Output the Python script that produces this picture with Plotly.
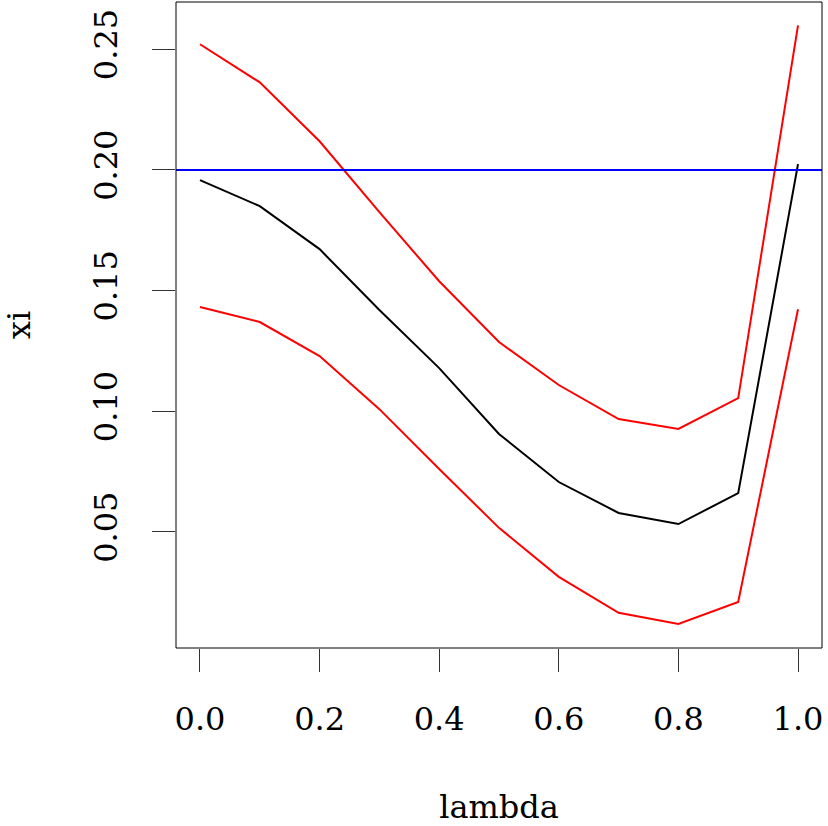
import plotly.graph_objects as go

lam = [0.0, 0.1, 0.2, 0.3, 0.4, 0.5, 0.6, 0.7, 0.8, 0.9, 1.0]
xi_mid = [0.1958, 0.1850, 0.1672, 0.1420, 0.1179, 0.0906, 0.0707, 0.0579, 0.0533, 0.0661, 0.2024]
xi_upper = [0.2521, 0.2363, 0.2119, 0.1825, 0.1539, 0.1287, 0.1109, 0.0968, 0.0927, 0.1055, 0.2599]
xi_lower = [0.1432, 0.1370, 0.1229, 0.1009, 0.0761, 0.0517, 0.0314, 0.0165, 0.0119, 0.0210, 0.1423]
true_xi = 0.20

x_ticks = [0.0, 0.2, 0.4, 0.6, 0.8, 1.0]
x_ticklabels = ["0.0", "0.2", "0.4", "0.6", "0.8", "1.0"]
y_ticks = [0.05, 0.10, 0.15, 0.20, 0.25]
y_ticklabels = ["0.05", "0.10", "0.15", "0.20", "0.25"]

font = "DejaVu Serif"

fig = go.Figure()
fig.add_trace(go.Scatter(x=lam, y=xi_mid, mode="lines", line=dict(color="black", width=2)))
fig.add_trace(go.Scatter(x=lam, y=xi_upper, mode="lines", line=dict(color="#FF0000", width=2)))
fig.add_trace(go.Scatter(x=lam, y=xi_lower, mode="lines", line=dict(color="#FF0000", width=2)))

fig.add_hline(y=true_xi, line=dict(color="#0000FF", width=2))

fig.add_shape(type="rect", xref="paper", yref="paper", x0=0, x1=1, y0=0, y1=1,
              line=dict(color="black", width=1), layer="above")

fig.update_layout(
    width=828, height=826,
    margin=dict(l=176, r=6, t=2, b=178),
    paper_bgcolor="white", plot_bgcolor="white",
    showlegend=False,
    font=dict(family=font, size=32, color="black"),
    xaxis=dict(
        range=[-0.0401, 1.0401], tickvals=x_ticks, ticktext=x_ticklabels,
        showgrid=False, zeroline=False, showline=False,
        ticks="outside", ticklen=23, tickwidth=1, tickcolor="#333",
        ticklabelstandoff=20,
        title=dict(text="lambda", standoff=62, font=dict(size=32)),
    ),
    yaxis=dict(
        range=[0.00193, 0.2696], tickvals=y_ticks, ticktext=y_ticklabels,
        showgrid=False, zeroline=False, showline=False,
        ticks="outside", ticklen=23, tickwidth=1, tickcolor="#333",
        tickangle=-90, ticklabelstandoff=22,
        title=dict(text="xi", standoff=48, font=dict(size=32)),
    ),
)

fig.write_html("out.html")
